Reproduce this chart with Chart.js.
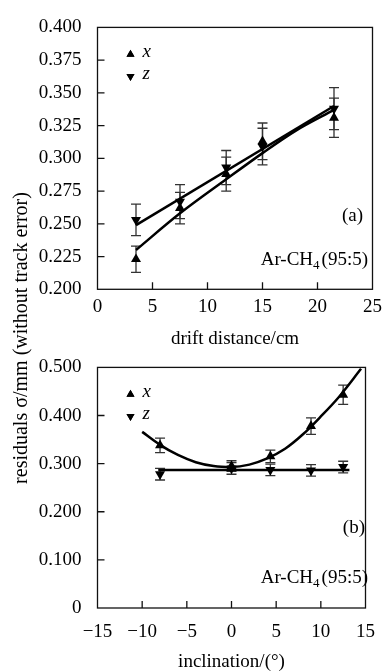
<!DOCTYPE html>
<html lang="en">
<head>
<meta charset="UTF-8">
<title>Residuals vs drift distance and inclination</title>
<script src="https://cdn.jsdelivr.net/npm/chart.js"></script>
<style>
  html, body { margin: 0; padding: 0; background: #fff; overflow: hidden; }
  body { width: 388px; height: 672px; position: relative; font-family: 'Liberation Serif', 'Times New Roman', serif; color: #000; }
  .chart-box { position: absolute; left: 0; width: 388px; }
  #box-a { top: 0; height: 350px; }
  #box-b { top: 340px; height: 340px; }
  .note { position: absolute; font-size: 19px; line-height: 19px; white-space: nowrap; }
  .note sub { font-size: 13px; vertical-align: -4px; line-height: 0; margin-right: 2px; }
  #ytitle { position: absolute; left: -180px; top: 326px; width: 400px; text-align: center;
            font-size: 20px; line-height: 24px; transform: rotate(-90deg); white-space: nowrap; }
</style>
</head>
<body>
  <div class="chart-box" id="box-a"><canvas id="chart-a" width="388" height="350"></canvas></div>
  <div class="chart-box" id="box-b"><canvas id="chart-b" width="388" height="340"></canvas></div>

  <div id="ytitle">residuals σ/mm (without track error)</div>
  <div class="note" style="right:25px; top:205px;">(a)</div>
  <div class="note" style="right:20px; top:249px;">Ar-CH<sub>4</sub>(95:5)</div>
  <div class="note" style="right:23px; top:517px;">(b)</div>
  <div class="note" style="right:20px; top:567px;">Ar-CH<sub>4</sub>(95:5)</div>

<script>
// (a) residuals vs drift distance
const driftCm   = [3.5, 7.5, 11.7, 15, 21.5];
const sigmaXa   = [0.223, 0.262, 0.288, 0.313, 0.331];
const errXa     = [0.010, 0.012, 0.013, 0.014, 0.015];
const sigmaZa   = [0.253, 0.267, 0.293, 0.309, 0.338];
const errZa     = [0.012, 0.013, 0.013, 0.014, 0.016];
const fitXaDist = [3.5, 7.5, 11.7, 15, 18, 21.5];
const fitXaVal  = [0.230, 0.258, 0.284, 0.304, 0.321, 0.337];
const fitZaDist = [3.5, 21.5];
const fitZaVal  = [0.249, 0.340];

// (b) residuals vs inclination
const inclDeg   = [-8, 0, 4.35, 8.9, 12.5];
const sigmaXb   = [0.338, 0.295, 0.315, 0.378, 0.443];
const errXb     = [0.015, 0.011, 0.013, 0.017, 0.020];
const sigmaZb   = [0.278, 0.290, 0.287, 0.286, 0.293];
const errZb     = [0.012, 0.012, 0.012, 0.012, 0.012];
const fitXbIncl = [-10, -8, -6, -4, -2, 0, 2, 4, 6, 8, 10, 12, 14.5];
const fitXbVal  = [0.366, 0.339, 0.318, 0.303, 0.295, 0.293, 0.298, 0.311, 0.331, 0.361, 0.398, 0.438, 0.497];
const fitZbIncl = [-8.2, 13.2];
const fitZbVal  = [0.287, 0.287];

const SERIF = "'Liberation Serif', 'Times New Roman', serif";

function pts(xs, ys) {
    return xs.map((x, i) => ({ x: x, y: ys[i] }));
}

// frame, inward ticks, error bars and the little legend
const paperStyle = {
    id: 'paperStyle',
    beforeDatasetsDraw(chart) {
        const ctx = chart.ctx;
        const xs = chart.scales.x, ys = chart.scales.y;
        ctx.save();
        ctx.strokeStyle = '#333';
        ctx.lineWidth = 1.3;
        chart.data.datasets.forEach(ds => {
            if (!ds.errors) return;
            ds.data.forEach((p, j) => {
                const px = xs.getPixelForValue(p.x);
                const top = ys.getPixelForValue(p.y + ds.errors[j]);
                const bot = ys.getPixelForValue(p.y - ds.errors[j]);
                ctx.beginPath();
                ctx.moveTo(px, top); ctx.lineTo(px, bot);
                ctx.moveTo(px - 5, top); ctx.lineTo(px + 5, top);
                ctx.moveTo(px - 5, bot); ctx.lineTo(px + 5, bot);
                ctx.stroke();
            });
        });
        ctx.restore();
    },
    afterDraw(chart) {
        const ctx = chart.ctx;
        const a = chart.chartArea;
        const xs = chart.scales.x, ys = chart.scales.y;
        ctx.save();
        ctx.strokeStyle = '#111';
        ctx.lineWidth = 1.3;
        ctx.strokeRect(a.left, a.top, a.right - a.left, a.bottom - a.top);
        ctx.beginPath();
        xs.ticks.forEach(t => {
            if (t.value <= xs.min || t.value >= xs.max) return;
            const px = xs.getPixelForValue(t.value);
            ctx.moveTo(px, a.bottom); ctx.lineTo(px, a.bottom - 7);
        });
        ys.ticks.forEach(t => {
            if (t.value <= ys.min || t.value >= ys.max) return;
            const py = ys.getPixelForValue(t.value);
            ctx.moveTo(a.left, py); ctx.lineTo(a.left + 7, py);
        });
        ctx.stroke();

        // legend
        const lx = a.left + 33, ly = a.top + 27;
        ctx.fillStyle = '#000';
        Chart.helpers.drawPoint(ctx, { pointStyle: 'triangle', radius: 4.6, rotation: 0 }, lx, ly);
        ctx.fill();
        Chart.helpers.drawPoint(ctx, { pointStyle: 'triangle', radius: 4.6, rotation: 180 }, lx, ly + 22);
        ctx.fill();
        ctx.font = 'italic 19px ' + SERIF;
        ctx.textBaseline = 'middle';
        ctx.fillText('x', lx + 12, ly - 2);
        ctx.fillText('z', lx + 12, ly + 20);
        ctx.restore();
    }
};

function makeChart(id, cfg) {
    const tickFont = { family: SERIF, size: 19 };
    return new Chart(document.getElementById(id), {
        type: 'scatter',
        data: {
            datasets: [
                { data: pts(cfg.fitX[0], cfg.fitX[1]), showLine: true, pointRadius: 0,
                  borderColor: '#000', borderWidth: 2.5, cubicInterpolationMode: 'monotone' },
                { data: pts(cfg.fitZ[0], cfg.fitZ[1]), showLine: true, pointRadius: 0,
                  borderColor: '#000', borderWidth: 2.5 },
                { data: pts(cfg.xs, cfg.sx), errors: cfg.ex, pointStyle: 'triangle', pointRadius: 5.8,
                  pointRotation: 0, backgroundColor: '#000', borderColor: '#000', borderWidth: 0 },
                { data: pts(cfg.xs, cfg.sz), errors: cfg.ez, pointStyle: 'triangle', pointRadius: 5.8,
                  pointRotation: 180, backgroundColor: '#000', borderColor: '#000', borderWidth: 0 }
            ]
        },
        options: {
            responsive: false,
            animation: false,
            layout: { padding: { left: 0, right: 10, top: cfg.padTop, bottom: 0 } },
            plugins: { legend: { display: false }, tooltip: { enabled: false } },
            scales: {
                x: {
                    type: 'linear', min: cfg.xMin, max: cfg.xMax,
                    ticks: { stepSize: 5, color: '#000', font: tickFont, padding: cfg.xTickPad,
                             maxRotation: 0, autoSkip: false, callback: cfg.xLabel },
                    grid: { display: false, drawTicks: false },
                    border: { display: false },
                    title: { display: true, text: cfg.xTitle, color: '#000', font: tickFont,
                             padding: { top: 0, bottom: cfg.titlePadBottom } },
                    afterFit: s => { s.height = cfg.xHeight; }
                },
                y: {
                    min: cfg.yMin, max: cfg.yMax,
                    ticks: { stepSize: cfg.yStep, color: '#000', font: tickFont, padding: 16,
                             callback: cfg.yLabel },
                    grid: { display: false, drawTicks: false },
                    border: { display: false },
                    afterFit: s => { s.width = 97.5; }
                }
            }
        },
        plugins: [paperStyle]
    });
}

makeChart('chart-a', {
    xs: driftCm, sx: sigmaXa, ex: errXa, sz: sigmaZa, ez: errZa,
    fitX: [fitXaDist, fitXaVal], fitZ: [fitZaDist, fitZaVal],
    xMin: 0, xMax: 25, yMin: 0.2, yMax: 0.4, yStep: 0.025,
    xLabel: v => String(v),
    yLabel: v => v.toFixed(3),
    xTitle: 'drift distance/cm',
    padTop: 15, xHeight: 60.7, xTickPad: 6, titlePadBottom: 0
});

makeChart('chart-b', {
    xs: inclDeg, sx: sigmaXb, ex: errXb, sz: sigmaZb, ez: errZb,
    fitX: [fitXbIncl, fitXbVal], fitZ: [fitZbIncl, fitZbVal],
    xMin: -15, xMax: 15, yMin: 0, yMax: 0.5, yStep: 0.1,
    xLabel: v => v < 0 ? '\u2212' + Math.abs(v) : String(v),
    yLabel: v => v === 0 ? '0' : v.toFixed(3),
    xTitle: 'inclination/(\u00B0)',
    padTop: 15.7, xHeight: 72, xTickPad: 13, titlePadBottom: 7
});
</script>
</body>
</html>
